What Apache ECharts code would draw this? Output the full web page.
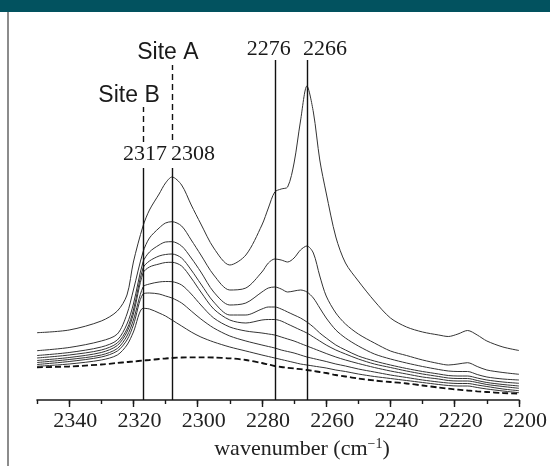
<!DOCTYPE html>
<html><head><meta charset="utf-8">
<script src="https://cdn.jsdelivr.net/npm/echarts@6/dist/echarts.min.js"></script>
<style>html,body{margin:0;padding:0;background:#fff}#c{width:550px;height:466px}</style>
</head><body><div id="c"></div>
<script>
// wavenumber grid (cm-1)
const wavenumbers = [2350,2340,2330,2325,2322,2320,2317,2315,2312,2310,2308,2305,2302,2299,2295,2290,2285,2280,2278,2276,2274,2272,2270,2268,2266,2264,2262,2260,2257,2254,2250,2245,2240,2235,2230,2225,2222,2219,2216,2213,2210,2205,2200];
// absorbance (x10^-3, arbitrary offset), top spectrum to bottom
const spectrum1 = [67.3,70,79,89,105,138,174,190,206,217,223,215,195,176,152,135,145,175,192,208,211,213,237,279,314,288,240,207,163,137,119,99,82,73,68,65,63.5,66,69.5,65,59,53,49.5];
const spectrum2 = [49.3,52.5,59,66,86,110,148,162,172,177,178.3,174,160,145,125,110,112,128,137,141,140,138,142,150,154,147,124,104,87,76,66,57,49,44.5,40,36.5,35,36,37.3,33.5,30,27.5,25.7];
const spectrum3 = [44.5,47.5,53,60,76,96,138,148,155,158,158.3,154,142,128,108,95,97,108,112,113,111,108,109,110,108,102,92,82,70,62,54,46,41,37,33.5,30.5,29,28.5,28.5,25.5,23,21,20];
const spectrum4 = [42,45,50,57,71,90,132,139,144,145.5,146,142,130,116,98,85,85,91,93,93,91,88,85,82,78,73,67,62,55,50,44,39,35,31.5,28.5,26,24.5,24,24,22,20,18,16.7];
const spectrum5 = [39.5,42.5,47.5,54.5,68,86,127,133,136,137.5,137.7,134,122,108,91,80,77,80,80.5,80.5,79,76,73,70,67,63,59,55,50,46,41,36,32.5,29,26,23.5,22,21.5,21.5,19.5,17.5,15.5,14];
const spectrum6 = [37.5,40.5,45,51.5,64,80,113,116,118,118.5,118.3,115,106,95,82,73,69,67,66,65,63,61,59,56.5,54,51.5,49,46.5,43,40,36.5,32.5,29,26,23,21,19.5,19,19,17.5,15.5,13.5,11.7];
const spectrum7 = [35.5,38.5,43,49,60,75,106,107,106,104,102,97,89,81,72,64,59,55,53.5,52,50,48.5,47,45,43,41.5,40,38.5,36,34,31,28,25,22.5,20,18,17,16.5,16.5,15,13.5,11,9.3];
const spectrum8 = [33.7,36,40,45,55,68,91.7,91,87,84,80,74,68,63,58,53,49,45,43.5,42,40.5,39,37.5,36,35,34,33,32,30,28.5,26,23.5,21.5,19.5,17.5,15.5,14.5,14,14,12.5,11,9,7.3];
const background = [32.7,33.5,35.5,37,38,38.5,39.5,40,41,41.5,42,42.5,42.7,42.7,42.5,41.7,40,37,35.5,34,33,32.2,31.5,30.8,30,29,28,27,25,23.5,21.5,19.5,18,16.5,14.5,12.5,11.3,10.4,9.5,8.7,8,7,6.3];
// x tick labels
const majorTicks = [2340,2320,2300,2280,2260,2240,2220,2200];
// band markers
const bandB = 2317, bandA = 2308, band1 = 2276, band2 = 2266;
const siteLabels = ['Site B','Site A'];

const solid = [spectrum1,spectrum2,spectrum3,spectrum4,spectrum5,spectrum6,spectrum7,spectrum8];
const chart = echarts.init(document.getElementById('c'), null, {renderer:'canvas'});
const serif = 'Liberation Serif';
const sans = 'Liberation Sans';
const series = solid.map(s => ({
  type:'line', data: wavenumbers.map((w,i)=>[w,s[i]]), showSymbol:false, smooth:0.3,
  lineStyle:{color:'#333', width:1}, silent:true, z:3
}));
series.push({
  type:'line', data: wavenumbers.map((w,i)=>[w,background[i]]), showSymbol:false, smooth:0.3,
  lineStyle:{color:'#111', width:1.8, type:[6,3]}, silent:true, z:3
});
const vl = (x,y0,y1,dashed)=>[{coord:[x,y0], lineStyle:{type: dashed?[6,4]:'solid', width:1.4, color:'#111'}},{coord:[x,y1]}];
const txt = (text,x,y,font,size,ox)=>({coord:[x,y], value:text, symbol:'circle', symbolSize:0,
  label:{show:true, position:'inside', formatter:text, fontFamily:font, fontSize:size, color:'#1a1a1a', offset:[ox,0]}});
series.push({
  type:'line', data:[], silent:true, z:4,
  markLine:{silent:true, symbol:'none', animation:false, label:{show:false},
    data:[vl(bandB,0,232,false), vl(bandB,258,293,true), vl(bandA,0,232,false), vl(bandA,260,335,true),
          vl(band1,0,340,false), vl(band2,0,340,false)]},
  markPoint:{silent:true, animation:false, data:[
    txt(String(bandB),bandB,246,serif,22,2),
    txt(String(bandA),bandA,246,serif,22,21),
    txt(String(band1),band1,351,serif,22,-6),
    txt(String(band2),band2,351,serif,22,18),
    txt(siteLabels[0],bandB,304,sans,23,-14),
    txt(siteLabels[1],bandA,347,sans,23,-4)
  ]}
});
chart.setOption({
  animation:false,
  grid:{left:37, right:31, top:40, bottom:66},
  xAxis:[{
    type:'value', inverse:true, min:2200, max:2350, interval:10,
    axisLine:{show:true, lineStyle:{color:'#1a1a1a', width:1.6}},
    axisTick:{show:true, length:4, lineStyle:{color:'#1a1a1a', width:1.4}},
    splitLine:{show:false},
    axisLabel:{show:true, customValues:majorTicks, formatter:v=>String(v), margin:10, fontFamily:serif, fontSize:22, color:'#222', padding:[0,0,0,12]},
    name:'wavenumber (cm{sup|\u22121})', nameLocation:'middle', nameGap:33,
    nameTextStyle:{fontFamily:serif, fontSize:22, color:'#222', padding:[0,0,0,48],
      rich:{sup:{fontFamily:serif, fontSize:14, verticalAlign:'top', padding:[0,0,10,0], color:'#222'}}}
  },{
    type:'value', inverse:true, min:2200, max:2350, position:'bottom', offset:0,
    axisLine:{show:false}, splitLine:{show:false}, axisLabel:{show:false},
    axisTick:{show:true, customValues:majorTicks, length:7, lineStyle:{color:'#1a1a1a', width:1.4}}
  }],
  yAxis:{type:'value', min:0, max:360, show:false},
  graphic:[
    {type:'rect', shape:{x:0,y:0,width:550,height:12}, style:{fill:'#02525f'}, silent:true},
    {type:'line', shape:{x1:8,y1:12,x2:8,y2:466}, style:{stroke:'#8c8c8c', lineWidth:2}, silent:true}
  ],
  series
});
</script></body></html>
